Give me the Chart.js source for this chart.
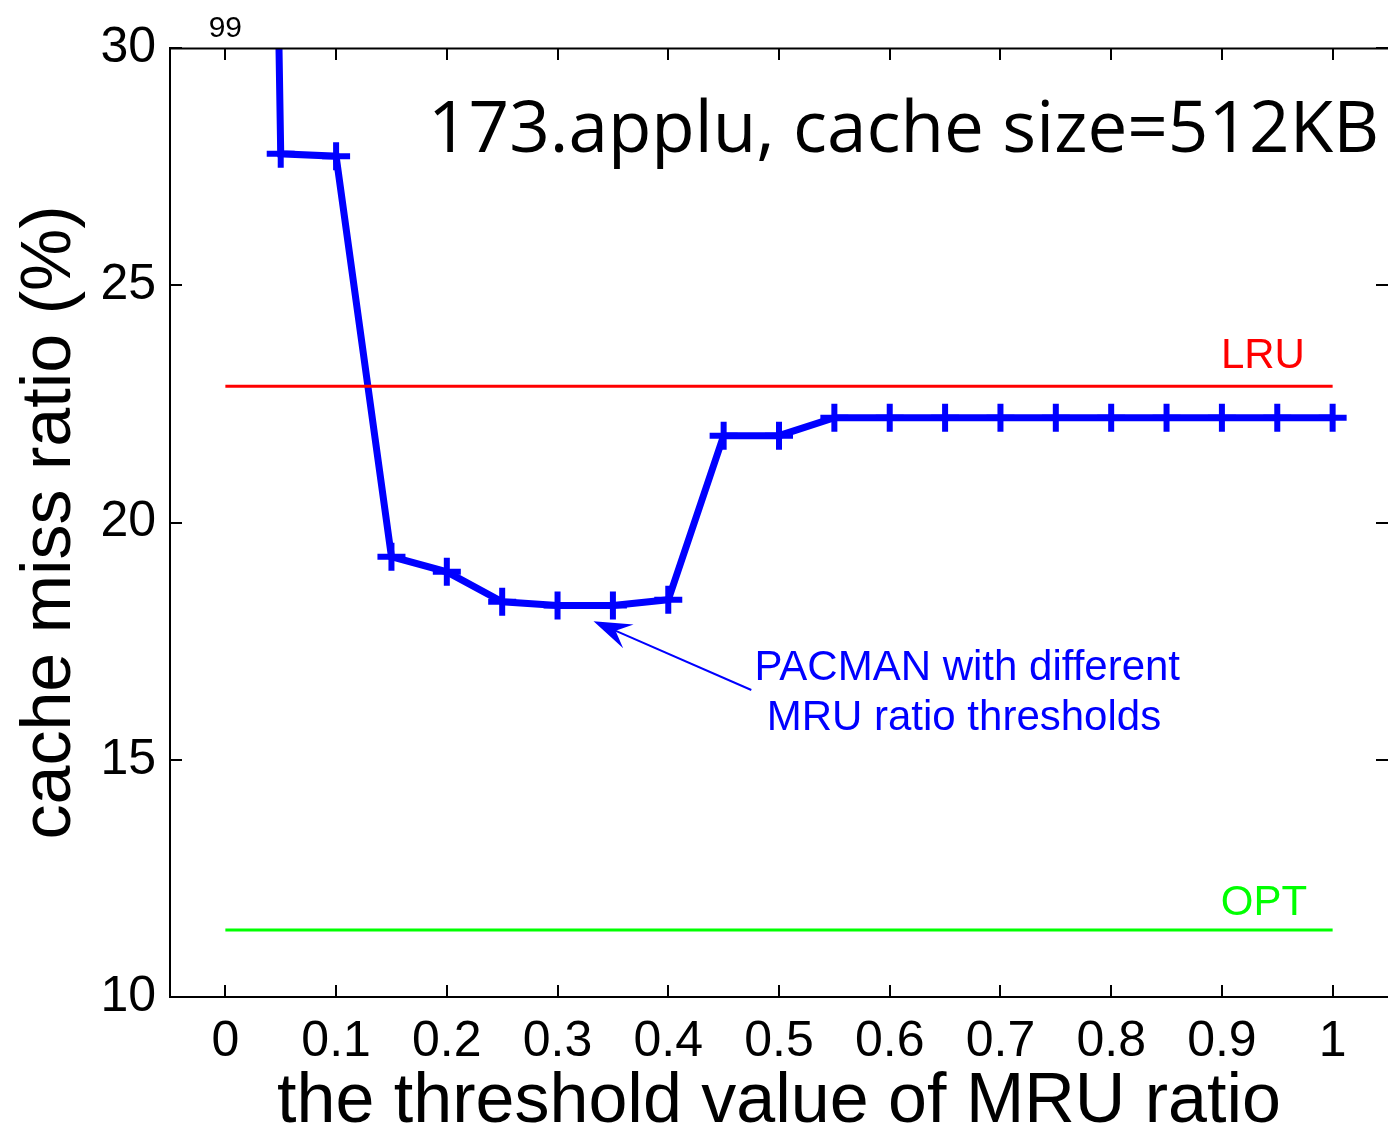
<!DOCTYPE html>
<html>
<head>
<meta charset="utf-8">
<script src="https://cdn.jsdelivr.net/npm/chart.js@4"></script>
<style>
  html, body { margin: 0; padding: 0; background: #fff; }
  #wrap { width: 1388px; height: 1129px; position: relative; }
</style>
</head>
<body>
<div id="wrap"><canvas id="c"></canvas></div>
<script>
// ---- data ----
const thresholds = [0, 0.05, 0.1, 0.15, 0.2, 0.25, 0.3, 0.35, 0.4, 0.45, 0.5, 0.55, 0.6, 0.65, 0.7, 0.75, 0.8, 0.85, 0.9, 0.95, 1];
const pacmanMiss = [99, 27.77, 27.72, 19.28, 18.96, 18.33, 18.25, 18.25, 18.37, 21.83, 21.83, 22.21, 22.21, 22.21, 22.21, 22.21, 22.21, 22.21, 22.21, 22.21, 22.21];
const lruMiss = 22.87;
const optMiss = 11.41;
const lineRange = [0, 1];
const xTickValues = [0, 0.1, 0.2, 0.3, 0.4, 0.5, 0.6, 0.7, 0.8, 0.9, 1];
const xTickLabels = ['0', '0.1', '0.2', '0.3', '0.4', '0.5', '0.6', '0.7', '0.8', '0.9', '1'];
const yTickValues = [10, 15, 20, 25, 30];
const yTickLabels = ['10', '15', '20', '25', '30'];
const chartTitle = '173.applu, cache size=512KB';
const xTitle = 'the threshold value of MRU ratio';
const yTitle = 'cache miss ratio (%)';
const annotationLines = ['PACMAN with different', 'MRU ratio thresholds'];

const FONT = "'Liberation Sans', Arial, Helvetica, sans-serif";
Chart.defaults.font.family = FONT;

const extras = {
  id: 'extras',
  afterDatasetsDraw(chart) {
    const { ctx, chartArea: a, scales: { x, y } } = chart;
    ctx.save();
    // frame top + inner ticks
    ctx.strokeStyle = '#000';
    ctx.lineWidth = 2;
    ctx.beginPath();
    ctx.moveTo(a.left, a.top + 0.5);
    ctx.lineTo(a.right, a.top + 0.5);
    const tl = 12;
    x.ticks.forEach(t => {
      const px = Math.round(x.getPixelForValue(t.value));
      ctx.moveTo(px, a.bottom); ctx.lineTo(px, a.bottom - tl);
      ctx.moveTo(px, a.top); ctx.lineTo(px, a.top + tl);
    });
    y.ticks.forEach(t => {
      const py = Math.round(y.getPixelForValue(t.value));
      ctx.moveTo(a.left, py); ctx.lineTo(a.left + tl, py);
      ctx.moveTo(a.right, py); ctx.lineTo(a.right - tl, py);
    });
    ctx.stroke();

    // off-scale value label for the first point
    ctx.fillStyle = '#000';
    ctx.font = "30px " + FONT;
    ctx.textAlign = 'center';
    ctx.textBaseline = 'alphabetic';
    ctx.fillText(String(pacmanMiss[0]), x.getPixelForValue(thresholds[0]), a.top - 11);

    // in-plot title
    ctx.font = "71px 'Open Sans', 'Noto Sans', sans-serif";
    ctx.textAlign = 'right';
    ctx.fillText(chartTitle, a.right - 9, 152);

    // series labels
    ctx.font = "42px " + FONT;
    ctx.fillStyle = '#ff0000';
    ctx.textBaseline = 'middle';
    ctx.fillText('LRU', x.getPixelForValue(0.975), y.getPixelForValue(23.49));
    ctx.fillStyle = '#00ff00';
    ctx.fillText('OPT', x.getPixelForValue(0.977), y.getPixelForValue(11.98));

    // annotation text
    ctx.fillStyle = '#0000ff';
    ctx.textAlign = 'center';
    ctx.fillText(annotationLines[0], x.getPixelForValue(0.670), y.getPixelForValue(16.93));
    ctx.fillText(annotationLines[1], x.getPixelForValue(0.667), y.getPixelForValue(15.88));

    // arrow
    const tx = x.getPixelForValue(0.3325), ty = y.getPixelForValue(17.92);
    const sx = x.getPixelForValue(0.475), sy = y.getPixelForValue(16.47);
    const ang = Math.atan2(ty - sy, tx - sx);
    ctx.strokeStyle = '#0000ff';
    ctx.lineWidth = 2;
    ctx.beginPath();
    ctx.moveTo(sx, sy);
    ctx.lineTo(tx - Math.cos(ang) * 20, ty - Math.sin(ang) * 20);
    ctx.stroke();
    const L = 38, W = 13, notch = 24;
    const bx = tx - Math.cos(ang) * L, by = ty - Math.sin(ang) * L;
    const nx = tx - Math.cos(ang) * notch, ny = ty - Math.sin(ang) * notch;
    const px = -Math.sin(ang), py = Math.cos(ang);
    ctx.fillStyle = '#0000ff';
    ctx.beginPath();
    ctx.moveTo(tx, ty);
    ctx.lineTo(bx + px * W, by + py * W);
    ctx.lineTo(nx, ny);
    ctx.lineTo(bx - px * W, by - py * W);
    ctx.closePath();
    ctx.fill();
    ctx.restore();
  }
};

new Chart(document.getElementById('c'), {
  type: 'line',
  data: {
    datasets: [
      {
        label: 'LRU',
        data: lineRange.map(v => ({ x: v, y: lruMiss })),
        borderColor: '#ff0000',
        borderWidth: 3,
        pointRadius: 0,
        clip: 0
      },
      {
        label: 'OPT',
        data: lineRange.map(v => ({ x: v, y: optMiss })),
        borderColor: '#00ff00',
        borderWidth: 3,
        pointRadius: 0,
        clip: 0
      },
      {
        label: 'PACMAN',
        data: thresholds.map((v, i) => ({ x: v, y: pacmanMiss[i] })),
        borderColor: '#0000ff',
        backgroundColor: '#0000ff',
        borderWidth: 7,
        pointStyle: 'cross',
        pointRadius: 14,
        pointBorderWidth: 6,
        pointBorderColor: '#0000ff',
        tension: 0,
        clip: 0
      }
    ]
  },
  options: {
    responsive: true,
    maintainAspectRatio: false,
    animation: false,
    layout: { autoPadding: false, padding: { top: 48, right: 0, left: 0, bottom: 0 } },
    plugins: { legend: { display: false }, tooltip: { enabled: false } },
    scales: {
      x: {
        type: 'linear',
        min: -0.05,
        max: 1.05,
        afterBuildTicks: s => { s.ticks = xTickValues.map(v => ({ value: v })); },
        afterFit: s => { s.height = 132; s.paddingLeft = 0; s.paddingRight = 0; },
        grid: { display: false, drawTicks: false },
        border: { display: true, color: '#000', width: 2 },
        ticks: {
          color: '#000',
          font: { size: 50 },
          padding: 15,
          maxRotation: 0,
          autoSkip: false,
          callback: (v, i) => xTickLabels[i]
        },
        title: {
          display: true,
          text: xTitle,
          color: '#000',
          font: { size: 70, lineHeight: 0.75 },
          padding: { top: 0, bottom: 0 }
        }
      },
      y: {
        type: 'linear',
        min: 10,
        max: 30,
        afterBuildTicks: s => { s.ticks = yTickValues.map(v => ({ value: v })); },
        afterFit: s => { s.width = 170; s.paddingTop = 0; s.paddingBottom = 0; },
        grid: { display: false, drawTicks: false },
        border: { display: true, color: '#000', width: 2 },
        ticks: {
          color: '#000',
          font: { size: 50 },
          padding: 14,
          autoSkip: false,
          callback: (v, i) => yTickLabels[i]
        },
        title: {
          display: true,
          text: yTitle,
          color: '#000',
          font: { size: 70, lineHeight: 1 },
          padding: { top: 16, bottom: 0 }
        }
      }
    }
  },
  plugins: [extras]
});
</script>
</body>
</html>
